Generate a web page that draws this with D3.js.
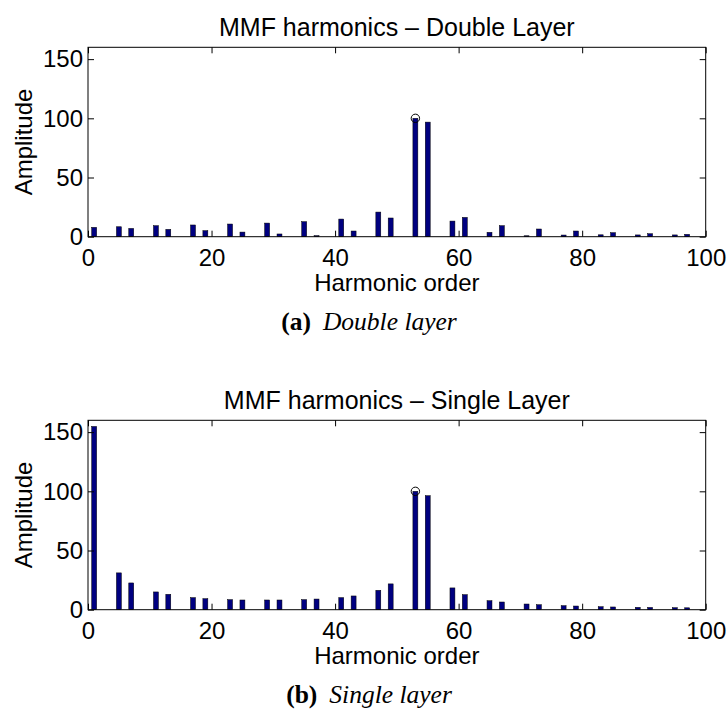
<!DOCTYPE html>
<html>
<head>
<meta charset="utf-8">
<script src="https://cdn.jsdelivr.net/npm/d3@7"></script>
<style>
  body { margin: 0; background: #fff; }
  svg { display: block; }
  .sans { font-family: "Liberation Sans", Arial, Helvetica, sans-serif; }
  .serif { font-family: "Liberation Serif", "Times New Roman", serif; }
</style>
</head>
<body>
<svg id="fig" width="727" height="711"></svg>
<script>
// Harmonic orders present in the MMF spectrum
const orders = [1, 5, 7, 11, 13, 17, 19, 23, 25, 29, 31, 35, 37, 41, 43, 47, 49,
                53, 55, 59, 61, 65, 67, 71, 73, 77, 79, 83, 85, 89, 91, 95, 97];

// Amplitudes (working harmonic normalised to 100)
const doubleLayer = [7.9, 8.4, 7.0, 9.3, 6.2, 9.9, 5.1, 10.7, 3.9, 11.5, 2.3, 12.7, 0.9, 14.9, 4.8, 20.8, 15.8,
                     100, 96.8, 13.2, 16.3, 3.7, 9.3, 0.8, 6.5, 1.4, 4.8, 1.6, 3.4, 1.5, 2.5, 1.5, 2.0];
const singleLayer = [154.8, 31.1, 22.6, 15.0, 13.0, 10.2, 9.3, 8.5, 8.2, 8.2, 8.2, 8.5, 9.0, 10.2, 11.6, 16.4, 21.8,
                     100, 96.3, 18.4, 12.7, 7.6, 6.5, 4.8, 4.2, 3.4, 3.1, 2.5, 2.3, 2.0, 1.9, 1.7, 1.6];

// Working harmonic, marked with a circle
const workingOrder = 53;
const workingValue = 100;

const xTicks = [0, 20, 40, 60, 80, 100];
const yTicks = [0, 50, 100, 150];

const panels = [
  { title: "MMF harmonics \u2013 Double Layer", label: "(a)", caption: "Double layer", values: doubleLayer, top: 0 },
  { title: "MMF harmonics \u2013 Single Layer", label: "(b)", caption: "Single layer", values: singleLayer, top: 373 }
];

const svg = d3.select("#fig");
const barColor = "#000080";
const fontSize = 24;

const plotLeft = 88, plotRight = 705.7;
const plotTop = 47.3, plotBottom = 236.7;
const tickLen = 6;

const x = d3.scaleLinear().domain([0, 100]).range([plotLeft, plotRight]);
const y = d3.scaleLinear().domain([0, 160]).range([plotBottom, plotTop]);
const barW = x(0.8) - x(0);

panels.forEach(p => {
  const g = svg.append("g").attr("transform", `translate(0,${p.top})`);

  // bars
  g.append("g").selectAll("rect")
    .data(orders.map((o, i) => ({ order: o, value: p.values[i] })))
    .join("rect")
    .attr("x", d => x(d.order) - barW / 2)
    .attr("width", barW)
    .attr("y", d => y(d.value))
    .attr("height", d => y(0) - y(d.value))
    .attr("fill", barColor)
    .attr("stroke", "#000")
    .attr("stroke-width", 0.5);

  // circle on the working harmonic
  g.append("circle")
    .attr("cx", x(workingOrder))
    .attr("cy", y(workingValue))
    .attr("r", 4.2)
    .attr("fill", "none")
    .attr("stroke", "#000")
    .attr("stroke-width", 1);

  // axes with inward ticks
  const styleAxis = sel => {
    sel.select(".domain").remove();
    sel.selectAll("line").attr("stroke", "#000").attr("stroke-width", 1);
    sel.selectAll("text")
      .attr("class", "sans")
      .attr("font-size", fontSize)
      .attr("fill", "#000");
  };

  g.append("g").attr("transform", `translate(0,${plotBottom})`)
    .call(d3.axisBottom(x).tickValues(xTicks).tickSize(-tickLen).tickSizeOuter(0).tickPadding(12))
    .call(styleAxis);
  g.append("g").attr("transform", `translate(0,${plotTop})`)
    .call(d3.axisTop(x).tickValues(xTicks).tickSize(-tickLen).tickSizeOuter(0).tickFormat(""))
    .call(styleAxis);
  g.append("g").attr("transform", `translate(${plotLeft},0)`)
    .call(d3.axisLeft(y).tickValues(yTicks).tickSize(-tickLen).tickSizeOuter(0).tickPadding(5))
    .call(styleAxis);
  g.append("g").attr("transform", `translate(${plotRight},0)`)
    .call(d3.axisRight(y).tickValues(yTicks).tickSize(-tickLen).tickSizeOuter(0).tickFormat(""))
    .call(styleAxis);

  // axes box
  g.append("rect")
    .attr("x", plotLeft).attr("y", plotTop)
    .attr("width", plotRight - plotLeft).attr("height", plotBottom - plotTop)
    .attr("fill", "none").attr("stroke", "#000").attr("stroke-width", 1);

  // title and axis labels
  const cx = (plotLeft + plotRight) / 2;
  g.append("text").attr("class", "sans")
    .attr("x", cx).attr("y", 36)
    .attr("text-anchor", "middle").attr("font-size", 25)
    .text(p.title);
  g.append("text").attr("class", "sans")
    .attr("x", cx).attr("y", 291)
    .attr("text-anchor", "middle").attr("font-size", fontSize)
    .text("Harmonic order");
  g.append("text").attr("class", "sans")
    .attr("transform", `translate(32,${(plotTop + plotBottom) / 2}) rotate(-90)`)
    .attr("text-anchor", "middle").attr("font-size", fontSize)
    .text("Amplitude");

  // sub-figure caption
  const cap = g.append("text").attr("class", "serif")
    .attr("x", 369).attr("y", 330)
    .attr("text-anchor", "middle").attr("font-size", 25.5);
  cap.append("tspan").attr("font-weight", "bold").text(p.label);
  cap.append("tspan").attr("dx", 12).attr("font-style", "italic").text(p.caption);
});
</script>
</body>
</html>
